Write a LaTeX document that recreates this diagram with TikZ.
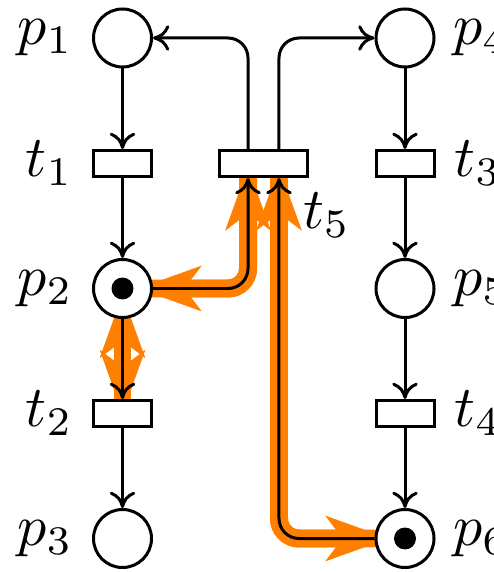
\documentclass[tikz,border=0pt]{standalone}
\usetikzlibrary{arrows.meta}
\pgfdeclarelayer{background}
\pgfsetlayers{background,main}
\begin{document}
\begin{tikzpicture}[x=0.1724pt,y=-0.1724pt,
  place/.style={circle, draw, fill=white, line width=0.517pt, minimum size=10pt, inner sep=0pt},
  trans/.style={rectangle, draw, fill=white, line width=0.517pt, minimum width=10pt, minimum height=4.48pt, inner sep=0pt},
  widetrans/.style={trans, minimum width=15.34pt},
  token/.style={circle, fill=black, minimum size=3.79pt, inner sep=0pt},
  flow/.style={draw, line width=0.517pt, -{To[length=2.8pt,width=4.4pt]}},
  band/.style={draw=orange, line width=3.1pt, rounded corners=3.45pt},
  bandtips/.style={draw=orange, line width=3.1pt, rounded corners=3.45pt,
    {Stealth[length=11pt,width=7.9pt,inset=3pt,line width=0pt]}-{Stealth[length=11pt,width=7.9pt,inset=3pt,line width=0pt]}},
  lbl/.style={inner sep=0pt}
]
\useasboundingbox (0,0) rectangle (494,572);
% places and transitions
\node[place] (p1) at (122.5,38) {};
\node[trans] (t1) at (122.5,163.5) {};
\node[place] (p2) at (122.5,288.5) {};
\node[trans] (t2) at (122.5,413.5) {};
\node[place] (p3) at (122.5,538.5) {};
\node[place] (p4) at (405,38) {};
\node[trans] (t3) at (405,163.5) {};
\node[place] (p5) at (405,288.5) {};
\node[trans] (t4) at (405,413.5) {};
\node[place] (p6) at (405,538.5) {};
\node[widetrans] (t5) at (263.5,163.5) {};
% tokens
\node[token] (k2) at (p2.center) {};
\node[token] (k6) at (p6.center) {};
% labels
\node[lbl, anchor=east] (lp1) at ([xshift=-3.1pt]p1.west) {$p_1$};
\node[lbl, anchor=east] (lt1) at ([xshift=-3.1pt]t1.west) {$t_1$};
\node[lbl, anchor=east] (lp2) at ([xshift=-3.1pt]p2.west) {$p_2$};
\node[lbl, anchor=east] (lt2) at ([xshift=-3.1pt]t2.west) {$t_2$};
\node[lbl, anchor=east] (lp3) at ([xshift=-3.1pt]p3.west) {$p_3$};
\node[lbl, anchor=west] (lp4) at ([xshift=2.9pt]p4.east) {$p_4$};
\node[lbl, anchor=west] (lt3) at ([xshift=3.1pt]t3.east) {$t_3$};
\node[lbl, anchor=west] (lp5) at ([xshift=2.9pt]p5.east) {$p_5$};
\node[lbl, anchor=west] (lt4) at ([xshift=3.1pt]t4.east) {$t_4$};
\node[lbl, anchor=west] (lp6) at ([xshift=2.9pt]p6.east) {$p_6$};
\node[lbl, anchor=north west] (lt5) at ([xshift=-1.3pt,yshift=-2.4pt]t5.south east) {$t_5$};
% highlighted arcs
\begin{pgfonlayer}{background}
\draw[band] (p2.center) -- (t2.center);
\draw[bandtips, shorten <=1.03pt] (p2.center) -- (t2.center);
\draw[band] (p2.center) -| ([xshift=-2.67pt]t5.center);
\draw[bandtips, shorten <=2.67pt, shorten >=0.6pt] (p2.center) -| ([xshift=-2.67pt]t5.center);
\draw[band] (p6.center) -| ([xshift=2.67pt]t5.center);
\draw[bandtips, shorten <=2.76pt, shorten >=0.6pt] (p6.center) -| ([xshift=2.67pt]t5.center);
\end{pgfonlayer}
% arcs
\draw[flow] (p1) -- (t1);
\draw[flow] (t1) -- (p2);
\draw[flow] (p2) -- (t2);
\draw[flow] (t2) -- (p3);
\draw[flow] (p4) -- (t3);
\draw[flow] (t3) -- (p5);
\draw[flow] (p5) -- (t4);
\draw[flow] (t4) -- (p6);
\draw[flow, rounded corners=3.45pt] ([xshift=-2.67pt]t5.north) |- (p1);
\draw[flow, rounded corners=3.45pt] ([xshift=2.67pt]t5.north) |- (p4);
\draw[flow, rounded corners=3.45pt] (p2) -| ([xshift=-2.67pt]t5.south);
\draw[flow, rounded corners=3.45pt] (p6) -| ([xshift=2.67pt]t5.south);
\end{tikzpicture}
\end{document}
